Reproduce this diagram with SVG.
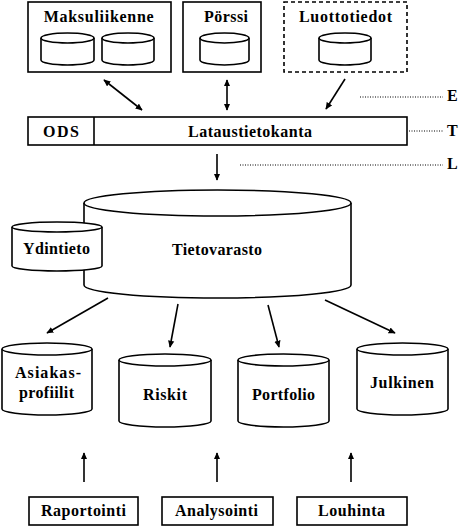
<svg xmlns="http://www.w3.org/2000/svg" width="476" height="532" viewBox="0 0 476 532">
<defs>
<style>
.s{fill:#fff;stroke:#000;stroke-width:1.6}
.d{fill:#fff;stroke:#000;stroke-width:1.6;stroke-dasharray:4,3}
.c{stroke:#000;stroke-width:1.6;fill:none}
.dot{stroke:#000;stroke-width:1.2;stroke-dasharray:1,1.5;fill:none}
text{font-family:'Liberation Serif','DejaVu Serif',serif;font-weight:bold;font-size:16px;fill:#000;text-anchor:middle}
.lb{text-anchor:start}
</style>
<marker id="ah" viewBox="0 0 10 10" refX="9" refY="5" markerWidth="7" markerHeight="7" markerUnits="userSpaceOnUse" orient="auto-start-reverse">
<path d="M0,0.5 L10,5 L0,9.5 Z" fill="#000"/>
</marker>
</defs>
<rect width="476" height="532" fill="#fff"/>

<g id="maksuliikenne">
<rect class="s" x="28" y="2" width="143" height="70"/>
<text x="98.7" y="22" textLength="110" lengthAdjust="spacing">Maksuliikenne</text>
<path class="s" d="M41,38 V60 A26.5,5 0 0 0 94,60 V38"/>
<ellipse class="s" cx="67.5" cy="38" rx="26.5" ry="5"/>
<path class="s" d="M102,38 V60 A26,5 0 0 0 154,60 V38"/>
<ellipse class="s" cx="128" cy="38" rx="26" ry="5"/>
</g>

<g id="porssi">
<rect class="s" x="183" y="2" width="78" height="70"/>
<text x="226" y="22" textLength="44" lengthAdjust="spacing">Pörssi</text>
<path class="s" d="M200,38 V60 A24.5,5 0 0 0 249,60 V38"/>
<ellipse class="s" cx="224.5" cy="38" rx="24.5" ry="5"/>
</g>

<g id="luottotiedot">
<rect class="d" x="284" y="2" width="123" height="70"/>
<text x="345.5" y="22" textLength="93" lengthAdjust="spacing">Luottotiedot</text>
<path class="s" d="M319,38 V60 A26,5 0 0 0 371,60 V38"/>
<ellipse class="s" cx="345" cy="38" rx="26" ry="5"/>
</g>

<g id="lataustietokanta">
<rect class="s" x="28" y="117" width="379" height="28"/>
<line class="c" x1="94" y1="117" x2="94" y2="145"/>
<text x="61" y="137" textLength="36" lengthAdjust="spacing">ODS</text>
<text x="250" y="137" textLength="124" lengthAdjust="spacing">Lataustietokanta</text>
</g>

<g id="tietovarasto">
<path class="s" d="M84,203 V285 A133.5,13 0 0 0 351,285 V203"/>
<ellipse class="s" cx="217.5" cy="203" rx="133.5" ry="13"/>
<text x="217" y="255" textLength="90" lengthAdjust="spacing">Tietovarasto</text>
</g>

<g id="ydintieto">
<path class="s" d="M12,227 V266 A45,5 0 0 0 102,266 V227"/>
<ellipse class="s" cx="57" cy="227" rx="45" ry="5"/>
<text x="56.5" y="254" textLength="67" lengthAdjust="spacing">Ydintieto</text>
</g>

<g id="asiakasprofiilit">
<path class="s" d="M2,349 V409 A45,6 0 0 0 92,409 V349"/>
<ellipse class="s" cx="47" cy="349" rx="45" ry="6"/>
<text x="48" y="378" textLength="66" lengthAdjust="spacing">Asiakas-</text>
<text x="46.5" y="398" textLength="55" lengthAdjust="spacing">profiilit</text>
</g>

<g id="riskit">
<path class="s" d="M119,360 V421 A46,6 0 0 0 211,421 V360"/>
<ellipse class="s" cx="165" cy="360" rx="46" ry="6"/>
<text x="165" y="400" textLength="44" lengthAdjust="spacing">Riskit</text>
</g>

<g id="portfolio">
<path class="s" d="M238,360 V421 A45.5,6 0 0 0 329,421 V360"/>
<ellipse class="s" cx="283.5" cy="360" rx="45.5" ry="6"/>
<text x="283.5" y="400" textLength="63" lengthAdjust="spacing">Portfolio</text>
</g>

<g id="julkinen">
<path class="s" d="M357,349 V409 A45.5,6 0 0 0 448,409 V349"/>
<ellipse class="s" cx="402.5" cy="349" rx="45.5" ry="6"/>
<text x="402" y="388" textLength="64" lengthAdjust="spacing">Julkinen</text>
</g>

<g id="raportointi">
<rect class="s" x="29" y="497" width="109" height="28"/>
<text x="83.5" y="516" textLength="85" lengthAdjust="spacing">Raportointi</text>
</g>
<g id="analysointi">
<rect class="s" x="162" y="497" width="111" height="28"/>
<text x="216.5" y="516" textLength="83" lengthAdjust="spacing">Analysointi</text>
</g>
<g id="louhinta">
<rect class="s" x="297" y="497" width="110" height="28"/>
<text x="351.5" y="516" textLength="67" lengthAdjust="spacing">Louhinta</text>
</g>

<g id="labels">
<line class="dot" x1="360" y1="97" x2="443" y2="97"/>
<text class="lb" x="447" y="101">E</text>
<line class="dot" x1="409" y1="131" x2="443" y2="131"/>
<text class="lb" x="447" y="136">T</text>
<line class="dot" x1="240" y1="165" x2="443" y2="165"/>
<text class="lb" x="447" y="169">L</text>
</g>

<g id="connectors">
<line class="c" x1="104" y1="80" x2="142" y2="110" marker-start="url(#ah)" marker-end="url(#ah)"/>
<line class="c" x1="227" y1="80" x2="227" y2="110" marker-start="url(#ah)" marker-end="url(#ah)"/>
<line class="c" x1="345" y1="79" x2="326" y2="109" marker-end="url(#ah)"/>
<line class="c" x1="217" y1="154" x2="217" y2="180" marker-end="url(#ah)"/>
<line class="c" x1="108" y1="298" x2="47" y2="333" marker-end="url(#ah)"/>
<line class="c" x1="178" y1="304" x2="170" y2="347" marker-end="url(#ah)"/>
<line class="c" x1="268" y1="305" x2="279" y2="347" marker-end="url(#ah)"/>
<line class="c" x1="325" y1="300" x2="395" y2="333" marker-end="url(#ah)"/>
<line class="c" x1="84" y1="482" x2="84" y2="453" marker-end="url(#ah)"/>
<line class="c" x1="217" y1="482" x2="217" y2="453" marker-end="url(#ah)"/>
<line class="c" x1="351" y1="482" x2="351" y2="453" marker-end="url(#ah)"/>
</g>
</svg>
